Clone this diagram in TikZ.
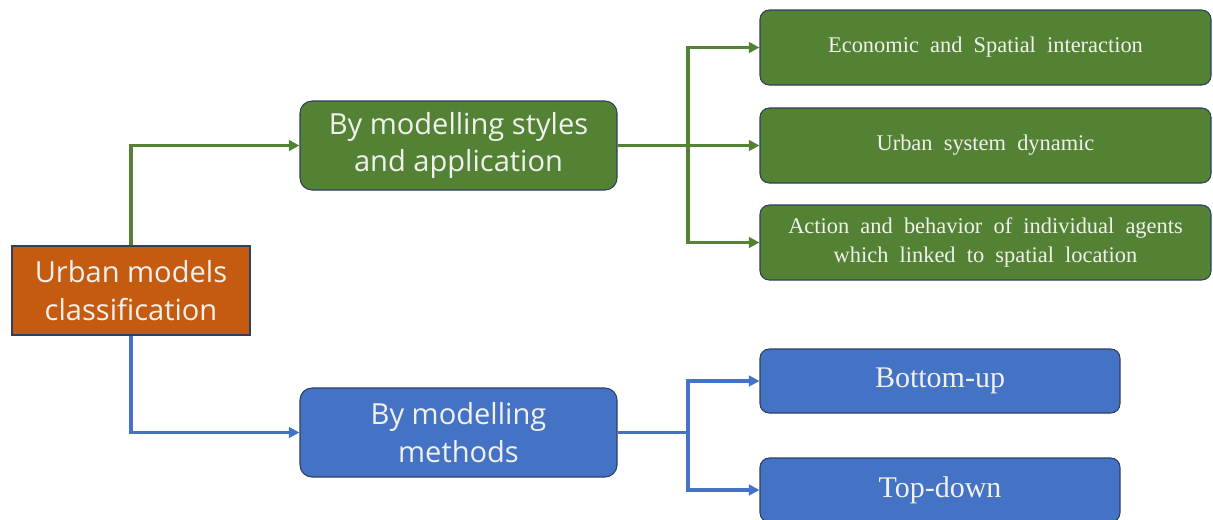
\documentclass[tikz,border=0pt]{standalone}
\usepackage{fontspec}
\setmainfont{Liberation Serif}
\newfontfamily\boxsans{Open Sans}
\usetikzlibrary{arrows.meta}
\definecolor{gfill}{HTML}{548235}
\definecolor{bfill}{HTML}{4472C4}
\definecolor{ofill}{HTML}{C55A11}
\definecolor{edge}{HTML}{2F3F5F}
\definecolor{txt}{HTML}{F0F0EC}
\tikzset{
  basebox/.style={draw=edge, line width=0.8pt, text=txt, align=center, inner sep=0pt},
  sansbox/.style={basebox, font=\boxsans\fontsize{21.8}{28}\selectfont},
  serifbox/.style={basebox, rounded corners=7pt},
  gline/.style={draw=gfill, line width=2.3pt},
  bline/.style={draw=bfill, line width=2.3pt},
  tip/.style={-{Triangle[length=8pt,width=8pt]}},
}
\begin{document}
\begin{tikzpicture}[x=0.75pt,y=-0.75pt]
\useasboundingbox (0,0) rectangle (1213,519);
\fill[white] (0,0) rectangle (1213,519);
% main nodes
\node[sansbox, fill=ofill, minimum width=178.5pt, minimum height=66.75pt] (root) at (131,290.5) {Urban models\\classification};
\node[sansbox, fill=gfill, rounded corners=9pt, minimum width=237.75pt, minimum height=66.75pt] (gmid) at (458.5,145.5) {By modelling styles\\and application};
\node[sansbox, fill=bfill, rounded corners=9pt, minimum width=237.75pt, minimum height=66.75pt] (bmid) at (458.5,432.5) {By modelling\\methods};
% right green
\node[serifbox, fill=gfill, minimum width=338.25pt, minimum height=56.25pt, font=\fontsize{16.8}{22}\selectfont] (g1) at (985.5,47.5) {Economic\ \ and\ \ Spatial\ \ interaction};
\node[serifbox, fill=gfill, minimum width=338.25pt, minimum height=56.25pt, font=\fontsize{16.8}{22}\selectfont] (g2) at (985.5,145.5) {Urban\ \ system\ \ dynamic};
\node[serifbox, fill=gfill, minimum width=338.25pt, minimum height=56.25pt, font=\fontsize{16.8}{22}\selectfont] (g3) at (985.5,242.5) {Action\ \ and\ \ behavior\ \ of\ \ individual\ \ agents\\which\ \ linked\ \ to\ \ spatial\ \ location};
% right blue
\node[serifbox, fill=bfill, minimum width=270pt, minimum height=48pt, font=\fontsize{22.5}{26}\selectfont] (b1) at (940,381) {Bottom-up};
\node[serifbox, fill=bfill, minimum width=270pt, minimum height=48pt, font=\fontsize{22.5}{26}\selectfont] (b2) at (940,490) {Top-down};
% connectors
\coordinate (gt) at (688,145.5);
\coordinate (bt) at (688,432.5);
\draw[gline, tip] (root.north) |- (gmid.west);
\draw[bline, tip] (root.south) |- (bmid.west);
\draw[gline, tip] (gmid.east) -- (g2.west);
\draw[gline, tip] (gt) |- (g1.west);
\draw[gline, tip] (gt) |- (g3.west);
\draw[bline] (bmid.east) -- (bt);
\draw[bline, tip] (bt) |- (b1.west);
\draw[bline, tip] (bt) |- (b2.west);
\end{tikzpicture}
\end{document}
